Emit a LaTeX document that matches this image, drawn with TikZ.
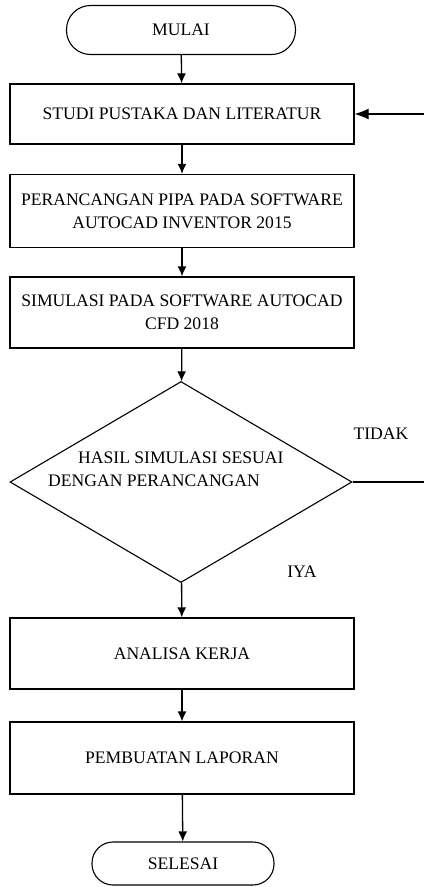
\documentclass[tikz,border=0pt]{standalone}
\usepackage{fontspec}
\setmainfont{Liberation Serif}
\usetikzlibrary{shapes.geometric, arrows.meta}

\tikzset{
  box/.style={draw, line width=1.3pt, minimum width=344pt, inner sep=2pt, align=center},
  terminal/.style={draw, line width=1.1pt, inner sep=2pt},
  arr/.style={-{Latex[length=10pt,width=9pt]}, line width=1.3pt},
}

\begin{document}
\begin{tikzpicture}[x=1pt, y=-1pt, font=\fontsize{17.6}{23}\selectfont]
    \useasboundingbox (0,0) rectangle (424,887);

    \node[terminal, rounded corners=24pt, minimum width=229pt, minimum height=49pt] (mulai) at (181,30) {MULAI};
    \node[box, minimum height=60pt] (studi) at (182,114) {STUDI PUSTAKA DAN LITERATUR};
    \node[box, minimum height=73pt] (rancang) at (182,211) {PERANCANGAN PIPA PADA SOFTWARE\\AUTOCAD INVENTOR 2015};
    \node[box, minimum height=71pt] (simulasi) at (182,312.5) {SIMULASI PADA SOFTWARE AUTOCAD\\CFD 2018};

    \node[diamond, draw, line width=1.1pt, inner sep=0pt, minimum width=342pt, minimum height=201pt] (cek) at (181,482) {};
    \node[anchor=west, align=left, inner sep=0pt] (cektxt) at (48,469) {\hspace*{30pt}HASIL SIMULASI SESUAI\\DENGAN PERANCANGAN};
    \node (tidak) at (381,434) {TIDAK};
    \node (iya) at (302,572) {IYA};

    \node[box, minimum height=71pt] (analisa) at (182,653.5) {ANALISA KERJA};
    \node[box, minimum height=72pt] (laporan) at (182,758) {PEMBUATAN LAPORAN};
    \node[terminal, rounded corners=21pt, minimum width=182pt, minimum height=43pt] (selesai) at (183,863.5) {SELESAI};

    \coordinate (ujung) at (424,482);
    \coordinate (balik) at (424,114);

    % alur utama
    \draw[arr] (mulai) -- (studi);
    \draw[arr] (studi) -- (rancang);
    \draw[arr] (rancang) -- (simulasi);
    \draw[arr] (simulasi) -- (cek);
    \draw[arr] (cek) -- (analisa);
    \draw[arr] (analisa) -- (laporan);
    \draw[arr] (laporan) -- (selesai);

    % kembali jika tidak sesuai
    \draw[line width=1.1pt] (cek.east) -- (ujung);
    \draw[-{Latex[length=14pt,width=11pt]}, line width=1.1pt] (balik) -- (studi.east);
\end{tikzpicture}
\end{document}
